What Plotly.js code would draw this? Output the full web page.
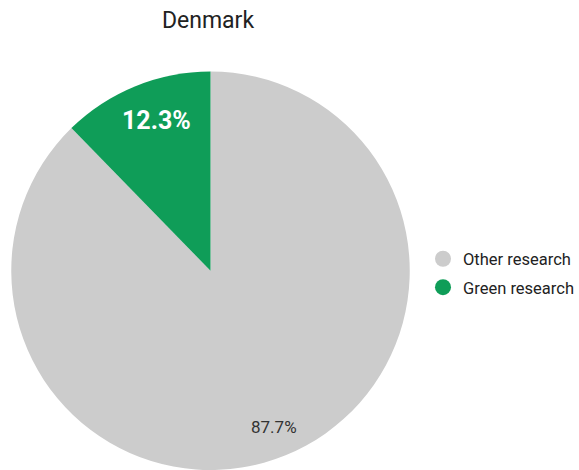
<!DOCTYPE html>
<html>
<head>
<meta charset="utf-8">
<script src="https://cdn.plot.ly/plotly-3.0.1.min.js"></script>
<style>html,body{margin:0;padding:0;background:#fff;}#chart{width:579px;height:470px;}</style>
</head>
<body>
<div id="chart"></div>
<script>
const labels = ["Other research", "Green research"];
const values = [87.7, 12.3];
const colors = ["#cccccc", "#0f9d58"];
const chartTitle = "Denmark";

const W = 579, H = 470;
const domX = [10.5 / W, 410.5 / W];
const domY = [0, 1 - 71.5 / H];

const pie = {
  type: "pie",
  labels: labels,
  values: values,
  sort: false,
  direction: "clockwise",
  rotation: 0,
  marker: {colors: colors, line: {width: 0}},
  textinfo: "none",
  hoverinfo: "label+percent",
  showlegend: false,
  automargin: false,
  domain: {x: domX, y: domY}
};

const legendTraces = labels.map((name, i) => ({
  type: "scatter",
  mode: "markers",
  x: [null], y: [null],
  name: name,
  legendgroup: "g" + i,
  marker: {color: colors[i], size: 16, symbol: "circle"},
  showlegend: true,
  hoverinfo: "skip"
}));

// percentage labels placed along each slice's mid-angle
const total = values.reduce((a, b) => a + b, 0);
const cxPx = (domX[0] + domX[1]) / 2 * W;
const cyPx = H - (domY[0] + domY[1]) / 2 * H;
const R = Math.min((domX[1] - domX[0]) * W, (domY[1] - domY[0]) * H) / 2;
const labelRadius = [0.845, 0.80];
const labelStyle = [
  {size: 17, color: "#333333", bold: false, dx: 0, dy: 0},
  {size: 25, color: "#ffffff", bold: true, dx: 6, dy: 3}
];
let cum = 0;
const annotations = values.map((v, i) => {
  const frac = v / total;
  const mid = (cum + frac / 2) * 2 * Math.PI; // clockwise from 12 o'clock
  cum += frac;
  const r = labelRadius[i] * R;
  const px = cxPx + r * Math.sin(mid);
  const py = cyPx - r * Math.cos(mid);
  const txt = (frac * 100).toFixed(1) + "%";
  return {
    x: px / W, y: 1 - py / H, xref: "paper", yref: "paper",
    xanchor: "center", yanchor: "middle", showarrow: false,
    xshift: labelStyle[i].dx, yshift: labelStyle[i].dy,
    text: labelStyle[i].bold ? "<b>" + txt + "</b>" : txt,
    font: {family: "Roboto, Arial, sans-serif", size: labelStyle[i].size, color: labelStyle[i].color}
  };
});

const layout = {
  width: W, height: H,
  margin: {l: 0, r: 0, t: 0, b: 0, autoexpand: false},
  paper_bgcolor: "#ffffff",
  plot_bgcolor: "#ffffff",
  title: {text: chartTitle, x: 208 / W, xanchor: "center", y: 1 - 20 / H, yanchor: "middle",
          font: {family: "Roboto, Arial, sans-serif", size: 23, color: "#222222"}},
  xaxis: {visible: false}, yaxis: {visible: false},
  showlegend: true,
  legend: {x: 423 / W, xanchor: "left", y: 1 - 273 / H, yanchor: "middle",
           traceorder: "grouped", tracegroupgap: 4, itemwidth: 30,
           font: {family: "Roboto, Arial, sans-serif", size: 16.5, color: "#222222"},
           bgcolor: "rgba(0,0,0,0)"},
  annotations: annotations
};

Plotly.newPlot("chart", [pie].concat(legendTraces), layout, {displayModeBar: false, staticPlot: true});
</script>
</body>
</html>
